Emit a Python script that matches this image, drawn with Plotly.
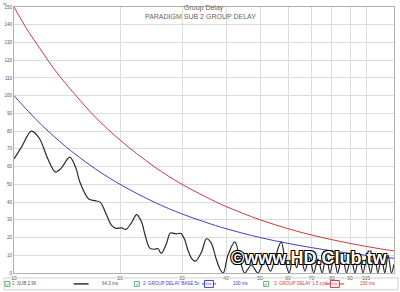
import plotly.graph_objects as go
import math

# ---------------- data ----------------
ref_freq = [10, 11, 12, 13, 14, 15, 17, 20, 25, 30, 35, 40, 50, 60, 70, 80, 90, 100, 110, 120]
base_ms = [100, 91, 83.3, 77, 71.4, 66.7, 58.8, 50, 40, 33.3, 28.6, 25, 20, 16.7, 14.3, 12.5, 11.1, 10, 9.1, 8.3]
cycl_ms = [150, 136, 125, 115, 107, 100, 88, 75, 60, 50, 43, 37.5, 30, 25, 21.4, 18.8, 16.7, 15, 13.6, 12.5]

sub_freq = [10, 10.5, 11.2, 11.8, 12.5, 13.1, 13.6, 14.4, 15.0, 15.4, 16.3, 17.0, 17.6, 18.2,
            18.9, 19.5, 20.2, 20.8, 21.5, 22.3, 23.0, 23.6, 24.3, 25.1, 25.6, 26.2, 27.1, 27.8,
            28.9, 29.8, 30.5, 31.2, 32.0, 32.8, 34.1, 35.2, 36.3, 37.5, 38.5, 39.3, 40.5, 42.4,
            43.8, 45.2, 47.2, 49.3, 51.5, 53.5, 55.2, 57.4, 59, 60.5, 62, 63.5, 65, 67, 69, 71,
            73, 75, 77, 79, 81, 83, 85.5, 88, 90.5, 93, 95.5, 98, 100.5, 103, 105.5, 108, 110.5,
            113, 115.5, 118, 120]
sub_ms = [64.3, 71, 80, 76, 64, 57, 59, 65.3, 59, 51, 41.7, 40.8, 39.8, 34,
          27, 25.2, 25.4, 24.6, 28, 32.9, 29, 21, 14, 13.4, 13.8, 11, 16.6, 22.5,
          22.1, 22.3, 19, 12.8, 8, 6.7, 11.9, 19.3, 17, 8, 2, 0, 10, 17.5,
          8, 0, 4.5, 0, 7, 1, 9, 17.5, 6, 0, 9, 3, 11, 1, 9, 0,
          8, 0, 10, 0, 9, 0, 10, 0, 9, 0, 10, 0, 9, 0, 10, 0, 9,
          0, 10, 0, 5]

x_tickvals = [10, 20, 30, 40, 50, 60, 70, 80, 90, 100, 120]
x_ticktext = ["10", "20", "30", "40", "50", "60", "70", "80", "90", "100", "120Hz"]
y_tickvals = list(range(0, 151, 10))

RED = "#c83c3c"
BLUE = "#4040c0"
BLACK = "#2a2a2a"
GREEN = "#3a9a5a"

fig = go.Figure()
fig.add_trace(go.Scatter(x=ref_freq, y=cycl_ms, mode="lines",
                         line=dict(color=RED, width=1, shape="spline"), hoverinfo="skip"))
fig.add_trace(go.Scatter(x=ref_freq, y=base_ms, mode="lines",
                         line=dict(color=BLUE, width=1, shape="spline"), hoverinfo="skip"))
fig.add_trace(go.Scatter(x=sub_freq, y=sub_ms, mode="lines",
                         line=dict(color=BLACK, width=1.2, shape="spline", smoothing=0.9),
                         hoverinfo="skip"))

W, H = 400, 292
L, R, T, B = 12, 6, 5, 19
pw = W - L - R
ph = H - T - B


def px(x):
    return (x - L) / pw


def py(y):
    return (H - B - y) / ph


fig.update_layout(
    width=W, height=H,
    margin=dict(l=L, r=R, t=T, b=B),
    paper_bgcolor="white", plot_bgcolor="white",
    showlegend=False,
    font=dict(family="Liberation Sans, Arial, sans-serif", color="#555"),
    xaxis=dict(type="log", range=[1, math.log10(120)], tickvals=x_tickvals, ticktext=x_ticktext,
               showgrid=True, gridcolor="#dcdcdc", gridwidth=1, showline=True, linecolor="#b0b0b0",
               mirror=True, ticks="", tickfont=dict(size=5, color="#555"), zeroline=False),
    yaxis=dict(range=[0, 150], tickvals=y_tickvals, showgrid=True, gridcolor="#dcdcdc",
               showline=True, linecolor="#b0b0b0", mirror=True, ticks="",
               tickfont=dict(size=4.5, color="#555"), zeroline=False),
)

ann = []
ann.append(dict(text="Group Delay", x=0.5, y=py(6), xref="paper", yref="paper",
                showarrow=False, font=dict(size=7, color="#666"), xanchor="center", yanchor="middle"))
ann.append(dict(text="PARADIGM SUB 2 GROUP DELAY", x=px(199.5), y=py(14.5), xref="paper", yref="paper",
                showarrow=False, font=dict(size=7, color="#666"), xanchor="center", yanchor="middle"))
ann.append(dict(text="ms", x=px(0), y=py(-1.2), xref="paper", yref="paper", showarrow=False,
                font=dict(size=3), xanchor="left", yanchor="top", borderpad=0))

ly = py(284)
legend_items = [
    ("1: SUB 2.96", 8, "#555"), ("64.3 ms", 98, "#555"),
    ("2: GROUP DELAY BASE 5x", 140, BLUE), ("100 ms", 230, BLUE),
    ("3: GROUP DELAY 1.5 cycl", 271, RED), ("150 ms", 358, RED),
]
for t, x0, c in legend_items:
    ann.append(dict(text=t, x=px(x0), y=ly, xref="paper", yref="paper", showarrow=False,
                    font=dict(size=4.5, color=c), xanchor="left", yanchor="middle"))

shapes = []
# legend frame
shapes.append(dict(type="rect", xref="paper", yref="paper", x0=px(2), x1=px(398), y0=py(290),
                   y1=py(278), line=dict(color="#cfcfcf", width=1), fillcolor="rgba(0,0,0,0)"))
# check boxes
for cx in [5.5, 135.5, 265.5]:
    shapes.append(dict(type="rect", xref="paper", yref="paper", x0=px(cx - 2.5), x1=px(cx + 2.5),
                       y0=py(286.5), y1=py(281.5), line=dict(color=GREEN, width=0.8),
                       fillcolor="white"))
    ann.append(dict(text="✓", x=px(cx), y=py(284), xref="paper", yref="paper", showarrow=False,
                    font=dict(size=5, color=GREEN), xanchor="center", yanchor="middle"))
# black legend sample
shapes.append(dict(type="line", xref="paper", yref="paper", x0=px(72), x1=px(87), y0=ly, y1=ly,
                   line=dict(color="black", width=1.2)))
# blue and red icon boxes
for x0, x1, c in [(201, 215, BLUE), (325, 344, RED)]:
    shapes.append(dict(type="line", xref="paper", yref="paper", x0=px(x0), x1=px(x1), y0=ly, y1=ly,
                       line=dict(color=c, width=1)))
    mx = (x0 + x1) / 2
    shapes.append(dict(type="rect", xref="paper", yref="paper", x0=px(mx - 4.5), x1=px(mx + 4.5),
                       y0=py(287.5), y1=py(280.5), line=dict(color=c, width=1), fillcolor="white"))
    ann.append(dict(text="1/ai", x=px(mx), y=ly, xref="paper", yref="paper", showarrow=False,
                    font=dict(size=4, color=c), xanchor="center", yanchor="middle"))

# watermark
ann.append(dict(text="<b>©www.HD.Club.tw</b>", x=px(309), y=py(258), xref="paper", yref="paper",
                showarrow=False, xanchor="center", yanchor="middle",
                font=dict(size=18, color="white", family="Liberation Sans, Arial, sans-serif",
                          shadow="-1px -1px 0 #000, 1px -1px 0 #000, -1px 1px 0 #000, 1px 1px 0 #000")))

fig.update_layout(annotations=ann, shapes=shapes)
fig.write_html("out.html")
